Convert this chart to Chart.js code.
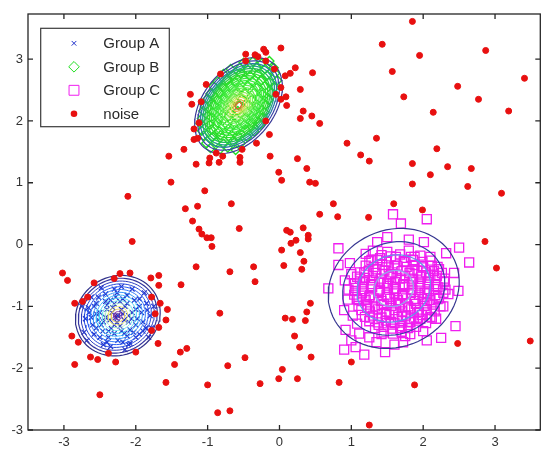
<!DOCTYPE html>
<html>
<head>
<meta charset="utf-8">
<script src="https://cdn.jsdelivr.net/npm/chart.js@4.4.1/dist/chart.umd.min.js"></script>
<style>
  html, body { margin: 0; padding: 0; background: #fff; }
  #wrap { width: 542px; height: 450px; overflow: hidden; }
</style>
</head>
<body>
<div id="wrap"><canvas id="chart" width="548" height="450"></canvas></div>
<script>
// tick labels
const xTicks = [-3, -2, -1, 0, 1, 2, 3];
const yTicks = [-3, -2, -1, 0, 1, 2, 3];

// Group A (blue x)
const groupA = [
  [-2.25,-1.15],[-2.40,-1.05],[-2.10,-1.25],[-2.30,-1.30],[-2.15,-1.00],[-2.45,-1.25],[-2.05,-1.10],[-2.35,-0.90],[-2.20,-1.40],[-2.50,-1.10],
  [-2.00,-1.30],[-2.28,-1.18],[-2.18,-1.12],[-2.38,-1.40],[-1.95,-1.00],[-2.55,-0.95],[-2.12,-0.82],[-2.42,-0.80],[-2.60,-1.30],[-1.90,-1.25],
  [-2.25,-1.55],[-2.00,-1.50],[-2.50,-1.50],[-2.30,-0.72],[-1.85,-0.95],[-2.65,-1.10],[-1.80,-1.15],[-2.08,-1.60],[-2.45,-1.62],[-2.70,-1.20],
  [-2.62,-0.85],[-1.88,-0.78],[-2.20,-0.68],[-1.78,-1.35],[-2.35,-1.65],[-2.15,-1.70],[-2.72,-1.42],[-1.95,-1.45],[-2.55,-1.35],[-2.32,-1.02],
  [-2.22,-0.92],[-2.08,-1.38],[-2.42,-1.18],[-2.12,-1.48],[-1.92,-1.10],[-2.58,-1.00],[-2.48,-0.70],[-2.05,-0.72],[-1.82,-1.50],[-2.68,-1.55],
  [-2.75,-1.00],[-1.75,-1.00],[-2.28,-0.85],[-2.02,-0.90],[-2.38,-1.50],[-2.18,-1.58],[-1.98,-1.20],[-2.52,-1.22],[-2.26,-1.26],[-2.16,-1.22],
  [-2.33,-1.10],[-2.20,-1.05],[-2.10,-1.15],[-2.36,-1.22],[-2.22,-1.32],[-2.12,-0.95],[-2.40,-0.98],[-2.46,-1.40],[-2.03,-1.42],[-2.30,-1.44],
  [-2.62,-1.18],[-1.86,-1.35],[-2.26,-0.78],[-2.52,-0.85],[-1.95,-0.88],[-2.40,-1.58],[-2.10,-1.62],[-2.66,-1.02],[-1.84,-1.06],[-2.58,-1.45],
  [-2.18,-0.88],[-2.48,-1.30],[-2.00,-1.05],[-2.34,-1.36],[-2.16,-1.44],[-2.55,-1.12],[-1.90,-1.40],[-2.42,-0.92],[-2.06,-1.20],[-2.30,-0.96]
];

// Group B (green diamonds)
const groupB = [
  [-0.50,2.94],[-0.37,2.96],[-0.25,2.93],[-0.14,2.97],
  [-0.68,2.84],[-0.55,2.86],[-0.44,2.83],[-0.31,2.87],[-0.20,2.84],[-0.08,2.86],
  [-0.78,2.76],[-0.65,2.74],[-0.54,2.77],[-0.41,2.73],[-0.30,2.76],[-0.17,2.74],[-0.06,2.77],
  [-0.86,2.64],[-0.73,2.66],[-0.62,2.63],[-0.49,2.67],[-0.38,2.64],[-0.25,2.66],[-0.14,2.63],[-0.03,2.66],
  [-0.92,2.56],[-0.79,2.54],[-0.68,2.57],[-0.55,2.53],[-0.44,2.56],[-0.31,2.54],[-0.20,2.57],[-0.07,2.54],
  [-0.96,2.44],[-0.83,2.46],[-0.72,2.43],[-0.59,2.47],[-0.48,2.44],[-0.35,2.46],[-0.24,2.43],[-0.11,2.46],
  [-1.00,2.36],[-0.87,2.34],[-0.76,2.37],[-0.63,2.33],[-0.52,2.36],[-0.39,2.34],[-0.28,2.37],[-0.15,2.34],
  [-1.04,2.24],[-0.91,2.26],[-0.80,2.23],[-0.67,2.27],[-0.56,2.24],[-0.43,2.26],[-0.32,2.23],[-0.19,2.26],
  [-1.06,2.16],[-0.93,2.14],[-0.82,2.17],[-0.69,2.13],[-0.58,2.16],[-0.45,2.14],[-0.34,2.17],[-0.21,2.14],
  [-1.08,2.04],[-0.95,2.06],[-0.84,2.03],[-0.71,2.07],[-0.60,2.04],[-0.47,2.06],[-0.36,2.03],[-0.23,2.06],
  [-1.10,1.96],[-0.97,1.94],[-0.86,1.97],[-0.73,1.93],[-0.62,1.96],[-0.49,1.94],[-0.38,1.97],[-0.27,1.94],
  [-1.08,1.84],[-0.95,1.86],[-0.84,1.83],[-0.71,1.87],[-0.60,1.84],[-0.47,1.86],[-0.35,1.83],
  [-1.06,1.76],[-0.93,1.74],[-0.82,1.77],[-0.69,1.73],[-0.58,1.76],[-0.45,1.74],
  [-1.02,1.64],[-0.89,1.66],[-0.78,1.63],[-0.65,1.67],[-0.54,1.64],
  [-0.96,1.56],[-0.83,1.54],[-0.72,1.57],[-0.61,1.53]
];

// Group C (magenta squares)
const groupC = [
  [1.59,-0.71],[1.45,-0.62],[1.72,-0.80],[1.50,-0.85],[1.68,-0.55],[1.38,-0.75],[1.80,-0.66],[1.62,-0.95],[1.55,-0.48],[1.30,-0.58],
  [1.88,-0.88],[1.42,-0.98],[1.75,-1.02],[1.95,-0.60],[1.25,-0.85],[1.60,-0.35],[1.35,-0.40],[1.85,-0.42],[2.02,-0.78],[1.48,-1.12],
  [1.70,-1.15],[1.22,-1.02],[2.05,-0.95],[1.92,-1.10],[1.15,-0.68],[1.28,-0.25],[1.74,-0.28],[2.10,-0.50],[1.98,-0.35],[1.40,-0.22],
  [1.55,-1.25],[1.82,-1.25],[1.18,-0.45],[1.10,-0.90],[2.15,-0.72],[1.12,-0.55],[1.26,-1.18],[1.96,-1.20],[2.20,-0.88],[2.22,-0.40],
  [1.05,-0.75],[1.00,-0.48],[1.38,-1.30],[1.68,-1.35],[2.00,-1.40],[1.20,-0.15],[1.50,-0.12],[1.80,-0.10],[2.10,-0.20],[2.30,-0.60],
  [2.28,-1.00],[1.02,-1.15],[0.98,-0.30],[1.88,-0.20],[1.62,-0.20],[1.42,-1.45],[1.75,-1.48],[2.12,-1.18],[1.30,-0.10],[2.35,-0.80],
  [1.08,-1.28],
  [1.42,-0.17],[1.55,-0.19],[1.68,-0.16],[1.83,-0.20],[1.96,-0.18],
  [1.25,-0.27],[1.36,-0.25],[1.49,-0.28],[1.61,-0.24],[1.73,-0.27],[1.86,-0.25],[1.99,-0.28],[2.10,-0.26],
  [1.20,-0.34],[1.31,-0.36],[1.43,-0.33],[1.52,-0.37],[1.64,-0.34],[1.77,-0.36],[1.88,-0.33],[2.00,-0.37],[2.12,-0.34],[2.20,-0.36],
  [1.12,-0.45],[1.24,-0.43],[1.34,-0.46],[1.46,-0.42],[1.57,-0.45],[1.70,-0.43],[1.81,-0.46],[1.92,-0.42],[2.04,-0.45],[2.15,-0.43],[2.26,-0.46],
  [1.08,-0.52],[1.19,-0.54],[1.30,-0.51],[1.41,-0.55],[1.53,-0.52],[1.63,-0.54],[1.75,-0.51],[1.86,-0.55],[1.97,-0.52],[2.08,-0.54],[2.19,-0.51],[2.30,-0.55],
  [1.05,-0.63],[1.16,-0.61],[1.27,-0.64],[1.39,-0.60],[1.50,-0.63],[1.61,-0.61],[1.72,-0.64],[1.84,-0.60],[1.95,-0.63],[2.06,-0.61],[2.18,-0.64],[2.29,-0.60],
  [1.06,-0.70],[1.17,-0.72],[1.29,-0.69],[1.40,-0.73],[1.51,-0.70],[1.62,-0.72],[1.74,-0.69],[1.85,-0.73],[1.96,-0.70],[2.08,-0.72],[2.20,-0.69],[2.31,-0.73],
  [1.04,-0.81],[1.15,-0.79],[1.26,-0.82],[1.38,-0.78],[1.49,-0.81],[1.60,-0.79],[1.71,-0.82],[1.83,-0.78],[1.94,-0.81],[2.05,-0.79],[2.17,-0.82],[2.28,-0.78],
  [1.08,-0.88],[1.20,-0.90],[1.31,-0.87],[1.42,-0.91],[1.54,-0.88],[1.65,-0.90],[1.76,-0.87],[1.88,-0.91],[1.99,-0.88],[2.10,-0.90],[2.22,-0.87],
  [1.10,-0.99],[1.22,-0.97],[1.33,-1.00],[1.45,-0.96],[1.56,-0.99],[1.68,-0.97],[1.79,-1.00],[1.90,-0.96],[2.02,-0.99],[2.13,-0.97],[2.24,-1.00],
  [1.14,-1.06],[1.26,-1.08],[1.37,-1.05],[1.49,-1.09],[1.60,-1.06],[1.71,-1.08],[1.83,-1.05],[1.94,-1.09],[2.05,-1.06],[2.16,-1.08],
  [1.19,-1.17],[1.30,-1.15],[1.42,-1.18],[1.53,-1.14],[1.65,-1.17],[1.76,-1.15],[1.87,-1.18],[1.98,-1.14],[2.10,-1.17],
  [1.25,-1.24],[1.37,-1.26],[1.48,-1.23],[1.60,-1.27],[1.71,-1.24],[1.82,-1.26],[1.93,-1.23],[2.04,-1.27],
  [1.33,-1.35],[1.45,-1.33],[1.57,-1.36],[1.68,-1.32],[1.79,-1.35],[1.90,-1.33],
  [1.45,-1.42],[1.58,-1.44],[1.70,-1.41],[1.82,-1.45],
  [1.58,0.49],[2.05,0.41],[1.69,0.34],[0.82,-0.06],[1.36,0.04],[1.50,0.12],[1.80,0.08],[2.01,0.04],[2.32,-0.14],[2.50,-0.05],
  [2.64,-0.29],[2.43,-0.46],[2.49,-0.75],[0.82,-0.33],[0.68,-0.71],[0.91,-0.58],[0.96,-0.73],[0.95,-0.89],[0.90,-1.06],[0.92,-1.38],
  [0.90,-1.70],[1.06,-1.66],[1.18,-1.78],[1.47,-1.74],[1.35,-1.58],[1.72,-1.58],[2.25,-1.51],[2.45,-1.32],[2.18,-1.20],[1.11,-1.44],
  [1.00,-1.55],[1.60,-1.62],[1.25,-1.50],[2.05,-1.55]
];

// noise (red dots)
const noise = [
  [1.85,3.61],[1.43,3.24],[1.95,3.06],[2.87,3.14],[1.57,2.80],[3.41,2.69],[2.48,2.56],[2.77,2.35],[1.73,2.39],[2.14,2.14],
  [3.19,2.16],[0.02,3.18],[0.22,2.86],[0.15,2.77],[0.08,2.73],[0.46,2.78],[0.29,2.51],[0.09,2.39],[0.02,2.35],[0.10,2.25],
  [0.33,2.16],[0.29,2.04],[0.45,2.08],[0.56,1.96],[1.35,1.72],[0.94,1.64],[1.13,1.45],[1.25,1.35],[2.19,1.55],[1.85,1.31],
  [2.34,1.26],[2.67,1.23],[2.10,1.13],[1.85,0.98],[2.62,0.94],[3.09,0.83],[0.25,1.39],[0.38,1.23],[-0.01,1.17],[0.03,1.04],
  [0.42,1.01],[0.50,0.99],[0.75,0.66],[0.56,0.49],[0.81,0.45],[1.24,0.44],[1.59,0.66],[1.99,0.56],[0.10,0.23],[0.15,0.20],
  [0.33,0.27],[0.40,0.15],[0.40,0.09],[0.23,0.07],[0.16,0.02],[0.03,-0.09],[0.29,-0.13],[0.34,-0.27],[0.06,-0.34],[0.31,-0.40],
  [2.86,0.05],[3.02,-0.38],[0.43,-0.95],[0.38,-1.09],[0.08,-1.19],[0.18,-1.21],[0.36,-1.23],[0.21,-1.48],[0.28,-1.66],[0.44,-1.82],
  [0.04,-2.02],[-0.01,-2.17],[0.25,-2.17],[0.83,-2.23],[1.00,-1.90],[1.88,-2.27],[2.48,-1.60],[3.49,-1.56],[1.25,-2.92],[-1.33,1.54],
  [-1.16,1.30],[-0.97,1.40],[-0.98,1.32],[-0.84,1.33],[-0.55,1.41],[-0.55,1.33],[-0.52,1.54],[-0.32,1.64],[-0.88,1.48],[-0.79,1.43],
  [-0.13,1.43],[-1.04,0.87],[-1.31,0.58],[-1.14,0.62],[-0.67,0.66],[-1.21,0.38],[-1.12,0.25],[-1.08,0.17],[-1.01,0.11],[-0.95,0.11],
  [-0.94,-0.03],[-0.56,0.26],[-1.16,-0.36],[-0.69,-0.44],[-0.36,-0.36],[-0.34,-0.60],[-1.37,-0.65],[-1.54,1.43],[-1.51,1.01],[-2.11,0.78],
  [-2.05,0.05],[-3.02,-0.46],[-2.95,-0.58],[-2.22,-0.47],[-2.08,-0.46],[-1.79,-0.54],[-1.68,-0.50],[-1.68,-0.66],[-2.58,-0.62],[-2.85,-0.95],
  [-1.66,-0.95],[-1.56,-1.05],[-1.58,-1.22],[-1.68,-1.34],[-2.89,-1.48],[-2.80,-1.58],[-1.69,-1.60],[-1.38,-1.74],[-1.29,-1.68],[-2.63,-1.82],
  [-2.53,-1.86],[-2.28,-1.90],[-2.00,-1.74],[-2.85,-1.94],[-1.46,-1.94],[-0.83,-1.11],[-0.48,-1.83],[-0.72,-1.96],[-1.58,-2.23],[-1.00,-2.27],
  [-0.27,-2.25],[-2.50,-2.43],[-0.86,-2.72],[-0.69,-2.69],[-2.30,-0.55],[-0.22,3.16],[-0.19,3.11],[-0.47,3.08],[-0.34,3.07],[-0.30,3.04],
  [-0.47,2.97],[-0.19,2.97],[-0.07,2.84],[-0.82,2.76],[-1.02,2.59],[-1.24,2.43],[-1.22,2.27],[-1.09,2.31],[-1.12,1.97],[-1.19,1.87],
  [-1.14,1.72],[-1.19,1.70],[-0.14,1.78],[-0.19,2.00],[-0.05,2.43],[0.02,2.54],[-2.74,-0.92],[-2.67,-0.85],[-2.38,-1.76],[-1.78,-0.85],
  [-1.73,-1.12],[-1.78,-1.39]
];

// fitted gaussian contours: centre x, centre y, semi-axis a, semi-axis b, angle (deg)
const fitA = [-2.25, -1.15, 0.66, 0.58, 70];
const levelsA = [1, 0.93, 0.86, 0.79, 0.72, 0.65, 0.58, 0.51, 0.44, 0.37, 0.30, 0.23, 0.16, 0.10, 0.05];
const colorsA = ['#30308a','#3535a0','#2d3cc0','#2348dc','#2a5cf0','#3278f8','#3898fa','#40b8fa','#48d4f4','#70e4e8','#a8ecc8','#e4e870','#e8c858','#8a3aa0','#5a2090'];

const fitB = [-0.57, 2.25, 0.84, 0.52, 61];
const levelsB = [1, 0.93, 0.87, 0.82, 0.77, 0.72, 0.67, 0.62, 0.57, 0.52, 0.47, 0.42, 0.37, 0.32, 0.27, 0.22, 0.17, 0.12, 0.07];
const colorsB = ['#3a3a98','#3a44a8','#2c78a8','#24a088','#26b860','#2cd040','#30dc30','#34e234','#3ce83c','#44ec44','#4cee48','#5cf050','#6cf054','#80f058','#98ee60','#b8ea60','#d8e058','#e8b048','#d87030'];

const fitC = [1.59, -0.71, 1.0, 0.88, 60];
const levelsC = [1, 0.78, 0.56, 0.3];
const colorsC = ['#363690','#3c3ca8','#6a90e8','#98a8e8'];

function ellipse(p, s) {
  const pts = [];
  const t = p[4] * Math.PI / 180;
  for (let i = 0; i <= 72; i++) {
    const u = i / 72 * 2 * Math.PI;
    const ex = p[2] * s * Math.cos(u), ey = p[3] * s * Math.sin(u);
    pts.push({ x: p[0] + ex * Math.cos(t) - ey * Math.sin(t), y: p[1] + ex * Math.sin(t) + ey * Math.cos(t) });
  }
  return pts;
}

function contours(fit, levels, colors, width) {
  return levels.map((s, i) => ({
    label: 'contour',
    data: ellipse(fit, s),
    showLine: true,
    borderColor: colors[i],
    borderWidth: i < 2 ? 1.2 : width,
    pointRadius: 0,
    fill: false,
    order: 1
  }));
}

const toXY = arr => arr.map(p => ({ x: p[0], y: p[1] }));

const noiseSet = { label: 'noise', data: toXY(noise), pointStyle: 'circle', pointRadius: 3, pointBorderWidth: 1,
  pointBackgroundColor: '#e81010', pointBorderColor: '#e81010', order: 0, lr: 3.3 };
const setA = { label: 'Group A', data: toXY(groupA), pointStyle: 'crossRot', pointRadius: 3.5, pointBorderWidth: 1.2,
  pointBackgroundColor: 'rgba(0,0,0,0)', pointBorderColor: '#2233cc', order: 2, lr: 3.3 };
const setB = { label: 'Group B', data: toXY(groupB), pointStyle: 'rectRot', pointRadius: 4.5, pointBorderWidth: 1.4,
  pointBackgroundColor: 'rgba(0,0,0,0)', pointBorderColor: '#22e022', order: 2, lr: 5.3 };
const setC = { label: 'Group C', data: toXY(groupC), pointStyle: 'rect', pointRadius: 6.4, pointBorderWidth: 1.3,
  pointBackgroundColor: 'rgba(0,0,0,0)', pointBorderColor: '#f01ef0', order: 2, lr: 7 };

const legendSets = [setA, setB, setC, noiseSet];

function marker(ctx, style, r, x, y) {
  ctx.beginPath();
  if (style === 'circle') {
    ctx.arc(x, y, r, 0, Math.PI * 2);
    ctx.fill();
    return;
  }
  if (style === 'crossRot') {
    const d = r * Math.SQRT1_2;
    ctx.moveTo(x - d, y - d); ctx.lineTo(x + d, y + d);
    ctx.moveTo(x - d, y + d); ctx.lineTo(x + d, y - d);
  } else if (style === 'rectRot') {
    ctx.moveTo(x, y - r); ctx.lineTo(x + r, y); ctx.lineTo(x, y + r); ctx.lineTo(x - r, y); ctx.closePath();
  } else {
    const d = r * Math.SQRT1_2;
    ctx.rect(x - d, y - d, 2 * d, 2 * d);
  }
  ctx.stroke();
}

const frame = {
  id: 'frame',
  afterDraw(chart) {
    const { ctx, chartArea: a, scales: { x, y } } = chart;
    ctx.save();
    ctx.strokeStyle = '#262626';
    ctx.lineWidth = 1.3;
    ctx.strokeRect(a.left, a.top, a.right - a.left, a.bottom - a.top);
    ctx.beginPath();
    xTicks.forEach(v => {
      const px = x.getPixelForValue(v);
      ctx.moveTo(px, a.bottom); ctx.lineTo(px, a.bottom - 5);
      ctx.moveTo(px, a.top); ctx.lineTo(px, a.top + 5);
    });
    yTicks.forEach(v => {
      const py = y.getPixelForValue(v);
      ctx.moveTo(a.left, py); ctx.lineTo(a.left + 5, py);
      ctx.moveTo(a.right, py); ctx.lineTo(a.right - 5, py);
    });
    ctx.stroke();

    // legend box
    const lx = a.left + 12.7, ly = a.top + 14.3, lw = 128.6, lh = 98.4;
    ctx.fillStyle = '#fff';
    ctx.fillRect(lx, ly, lw, lh);
    ctx.strokeStyle = '#3a3a3a';
    ctx.lineWidth = 1.2;
    ctx.strokeRect(lx, ly, lw, lh);
    ctx.font = '15px "Liberation Sans", Arial, sans-serif';
    ctx.textBaseline = 'middle';
    legendSets.forEach((ds, i) => {
      const cy = ly + 15 + i * 23.5;
      ctx.strokeStyle = ds.pointBorderColor;
      ctx.fillStyle = ds.pointBackgroundColor;
      ctx.lineWidth = 1;
      marker(ctx, ds.pointStyle, ds.lr, lx + 33.3, cy);
      ctx.fillStyle = '#2a2a2a';
      ctx.fillText(ds.label, lx + 62.6, cy + 1);
    });
    ctx.restore();
  }
};

Chart.defaults.font.family = '"Liberation Sans", Arial, sans-serif';

new Chart(document.getElementById('chart'), {
  type: 'scatter',
  data: {
    datasets: [
      noiseSet,
      ...contours(fitA, levelsA, colorsA, 1),
      ...contours(fitB, levelsB, colorsB, 1.3),
      ...contours(fitC, levelsC, colorsC, 1.3),
      setA, setB, setC
    ]
  },
  options: {
    responsive: false,
    animation: false,
    layout: { padding: { left: 0, top: 14, right: 4, bottom: 0 } },
    plugins: { legend: { display: false }, tooltip: { enabled: false } },
    scales: {
      x: {
        type: 'linear', min: -3.5, max: 3.63,
        afterBuildTicks: s => { s.ticks = xTicks.map(v => ({ value: v })); },
        afterFit: s => { s.height = 20; },
        grid: { display: false, drawTicks: false },
        border: { display: false },
        ticks: { color: '#333', font: { size: 13 }, padding: 5, maxRotation: 0, autoSkip: false }
      },
      y: {
        type: 'linear', min: -3, max: 3.73,
        afterBuildTicks: s => { s.ticks = yTicks.map(v => ({ value: v })); },
        afterFit: s => { s.width = 28; },
        grid: { display: false, drawTicks: false },
        border: { display: false },
        ticks: { color: '#333', font: { size: 13 }, padding: 5, autoSkip: false }
      }
    }
  },
  plugins: [frame]
});
</script>
</body>
</html>
